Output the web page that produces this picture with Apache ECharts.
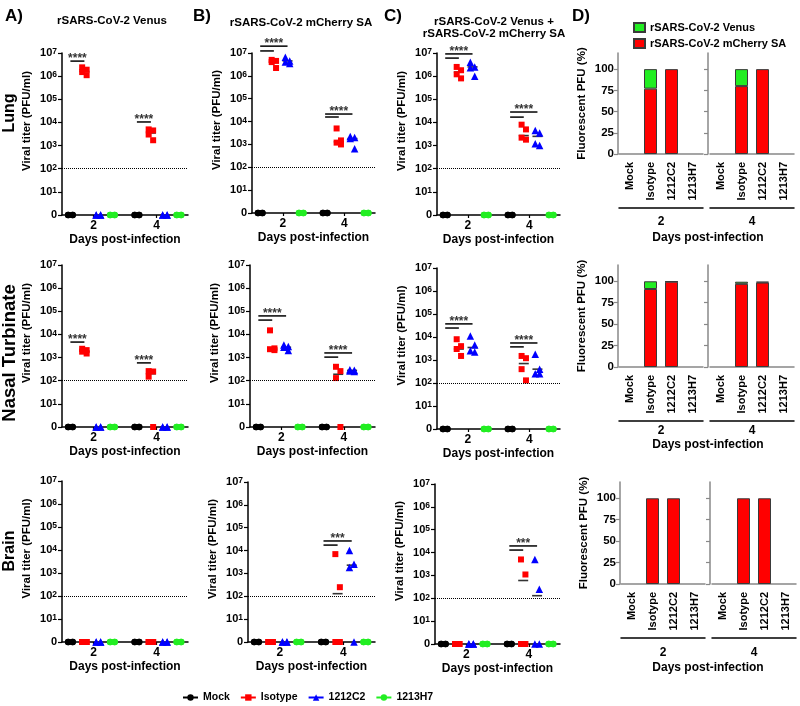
<!DOCTYPE html>
<html><head><meta charset="utf-8">
<script src="https://cdn.jsdelivr.net/npm/echarts@6/dist/echarts.min.js"></script>
<style>html,body{margin:0;padding:0;background:#fff}#c{width:800px;height:706px}</style>
</head><body><div id="c"></div>
<script>
// ---------------- DATA ----------------
const GROUPS = ['Mock', 'Isotype', '1212C2', '1213H7'];
const DAYS = ['2', '4'];
const Y_EXPONENTS = [0, 1, 2, 3, 4, 5, 6, 7];   // tick labels: 0, 10^1 ... 10^7
const PCT_TICKS = [0, 25, 50, 75, 100];
const DETECTION_LIMIT = 100;

// Viral titers (PFU/ml); each array = [Mock, Isotype, 1212C2, 1213H7] point lists
const lungVenusD2   = [[0,0,0,0], [2.4e6,1.9e6,1.5e6,1.1e6], [0,0,0,0], [0,0,0,0]];
const lungVenusD4   = [[0,0,0,0], [5e3,4.5e3,3e3,1.7e3], [0,0,0,0], [0,0,0,0]];
const lungCherryD2  = [[0,0,0,0], [5e6,4.5e6,4e6,2.2e6], [6.5e6,4.5e6,4e6,3.5e6], [0,0,0,0]];
const lungCherryD4  = [[0,0,0,0], [5e3,1.5e3,1.2e3,1e3], [2.2e3,2e3,1.8e3,6.5e2], [0,0,0,0]];
const lungMixD2     = [[0,0,0,0], [2.5e6,1.8e6,1.2e6,8e5], [4e6,2.5e6,2.3e6,1e6], [0,0,0,0]];
const lungMixD4     = [[0,0,0,0], [8e3,5e3,2.2e3,1.8e3], [4.5e3,3.5e3,1.2e3,1e3], [0,0,0,0]];
const nasalVenusD2  = [[0,0,0,0], [2.4e3,2.1e3,1.8e3,1.5e3], [0,0,0,0], [0,0,0,0]];
const nasalVenusD4  = [[0,0,0,0], [260,250,150,0], [0,0,0,0], [0,0,0,0]];
const nasalCherryD2 = [[0,0,0,0], [1.5e4,2.5e3,2.3e3,2.1e3], [3.5e3,3e3,2.8e3,2e3], [0,0,0,0]];
const nasalCherryD4 = [[0,0,0,0], [400,260,130,0], [300,280,260,250], [0,0,0,0]];
const nasalMixD2    = [[0,0,0,0], [8e3,4e3,3e3,1.5e3], [1.1e4,4.5e3,2.5e3,2.2e3], [0,0,0,0]];
const nasalMixD4    = [[0,0,0,0], [1.5e3,1.2e3,400,130], [1.8e3,400,250,250], [0,0,0,0]];
const brainVenusD2  = [[0,0,0,0], [0,0,0,0], [0,0,0,0], [0,0,0,0]];
const brainVenusD4  = [[0,0,0,0], [0,0,0,0], [0,0,0,0], [0,0,0,0]];
const brainCherryD2 = [[0,0,0,0], [0,0,0,0], [0,0,0,0], [0,0,0,0]];
const brainCherryD4 = [[0,0,0,0], [7e3,250,0,0], [1e4,2.5e3,1.8e3,0], [0,0,0,0]];
const brainMixD2    = [[0,0,0,0], [0,0,0,0], [0,0,0,0], [0,0,0,0]];
const brainMixD4    = [[0,0,0,0], [5e3,1.1e3,0,0], [5e3,250,0,0], [0,0,0,0]];

// central-tendency lines [day2 per group, day4 per group]
const lungVenusMid   = [[null,1.6e6,null,null], [null,3.5e3,null,null]];
const lungCherryMid  = [[null,4e6,4.5e6,null], [null,1.3e3,1.8e3,null]];
const lungMixMid     = [[null,1.5e6,2.5e6,null], [null,2.7e3,2.5e3,null]];
const nasalVenusMid  = [[null,1.9e3,null,null], [null,200,null,null]];
const nasalCherryMid = [[null,2.3e3,2.8e3,null], [null,190,280,null]];
const nasalMixMid    = [[null,3e3,3.5e3,null], [null,700,400,null]];
const brainVenusMid  = [[null,null,null,null], [null,null,null,null]];
const brainCherryMid = [[null,null,null,null], [null,130,2.3e3,null]];
const brainMixMid    = [[null,null,null,null], [null,600,130,null]];

// significance: [dayIndex, log10 height Mock–Isotype bar, log10 height Mock–1212C2 bar (or null), stars]
const lungVenusSig   = [[0, 6.65, null, '****'], [1, 4.02, null, '****']];
const lungCherrySig  = [[0, 7.09, 7.30, '****'], [1, 4.20, 4.33, '****']];
const lungMixSig     = [[0, 6.78, 6.96, '****'], [1, 4.23, 4.45, '****']];
const nasalVenusSig  = [[0, 3.67, null, '****'], [1, 2.77, null, '****']];
const nasalCherrySig = [[0, 4.62, 4.80, '****'], [1, 3.02, 3.20, '****']];
const nasalMixSig    = [[0, 4.39, 4.57, '****'], [1, 3.57, 3.74, '****']];
const brainVenusSig  = [];
const brainCherrySig = [[1, 4.24, 4.42, '***']];
const brainMixSig    = [[1, 4.11, 4.29, '***']];

// Fluorescent PFU (%) per group [Mock, Isotype, 1212C2, 1213H7]
const pctCherryLungD2  = [0, 77, 100, 0];
const pctVenusLungD2   = [0, 23, 0, 0];
const pctCherryLungD4  = [0, 80, 100, 0];
const pctVenusLungD4   = [0, 20, 0, 0];
const pctCherryNasalD2 = [0, 91, 99.5, 0];
const pctVenusNasalD2  = [0, 9, 0.5, 0];
const pctCherryNasalD4 = [0, 97, 98.5, 0];
const pctVenusNasalD4  = [0, 2.5, 1, 0];
const pctCherryBrainD2 = [0, 100, 100, 0];
const pctVenusBrainD2  = [0, 0, 0, 0];
const pctCherryBrainD4 = [0, 100, 100, 0];
const pctVenusBrainD4  = [0, 0, 0, 0];

// ---------------- STYLE / LAYOUT ----------------
const FONT = '"Liberation Sans", Arial, sans-serif';
const RED = '#FF0000', BLUE = '#0000FF', GREEN = '#22EE22', BLACK = '#000000';
const GROUP_COLORS = [BLACK, RED, BLUE, GREEN];
const GROUP_SYMBOLS = ['circle', 'rect', 'triangle', 'circle'];
const GROUP_SIZES = [6.5, 6, 7.5, 6.5];
const XPOS = [[0.6, 1.6, 2.6, 3.6], [5.35, 6.35, 7.35, 8.35]];
const JIT = [-0.16, 0.16, -0.16, 0.16];

const SCATTER = [
  {g: [62, 53, 126, 162],  d: [lungVenusD2, lungVenusD4],   mid: lungVenusMid,   sig: lungVenusSig},
  {g: [252, 53, 123, 160], d: [lungCherryD2, lungCherryD4], mid: lungCherryMid,  sig: lungCherrySig},
  {g: [437, 53, 123, 162], d: [lungMixD2, lungMixD4],       mid: lungMixMid,     sig: lungMixSig},
  {g: [62, 265, 126, 162], d: [nasalVenusD2, nasalVenusD4], mid: nasalVenusMid,  sig: nasalVenusSig},
  {g: [250, 265, 125, 162],d: [nasalCherryD2, nasalCherryD4], mid: nasalCherryMid, sig: nasalCherrySig},
  {g: [437, 268, 123, 161],d: [nasalMixD2, nasalMixD4],     mid: nasalMixMid,    sig: nasalMixSig},
  {g: [62, 481, 126, 161], d: [brainVenusD2, brainVenusD4], mid: brainVenusMid,  sig: brainVenusSig},
  {g: [248, 482, 127, 160],d: [brainCherryD2, brainCherryD4], mid: brainCherryMid, sig: brainCherrySig},
  {g: [435, 484, 125, 160],d: [brainMixD2, brainMixD4],     mid: brainMixMid,    sig: brainMixSig}
];

const PCT = [
  {g: [[619, 53, 84, 101], [710, 53, 84, 101]],   dayMargin: 8, red: [pctCherryLungD2, pctCherryLungD4],   green: [pctVenusLungD2, pctVenusLungD4]},
  {g: [[619, 265, 84, 102], [710, 265, 84, 102]], dayMargin: 4, red: [pctCherryNasalD2, pctCherryNasalD4], green: [pctVenusNasalD2, pctVenusNasalD4]},
  {g: [[621, 482, 84, 102], [712, 482, 84, 102]], dayMargin: 9, red: [pctCherryBrainD2, pctCherryBrainD4], green: [pctVenusBrainD2, pctVenusBrainD4]}
];

const VENUS = 'rSARS-CoV-2 Venus', CHERRY = 'rSARS-CoV-2 mCherry SA';
const txt = (size) => ({fontFamily: FONT, fontWeight: 'bold', fontSize: size, color: '#000'});

const grid = [], xAxis = [], yAxis = [], series = [];

// legend proxies (line + symbol icons)
GROUPS.forEach((name, i) => series.push({
  type: 'line', name, xAxisIndex: 0, yAxisIndex: 0, data: [],
  symbol: GROUP_SYMBOLS[i], symbolSize: 8,
  itemStyle: {color: GROUP_COLORS[i]}, lineStyle: {color: GROUP_COLORS[i], width: 2}
}));

SCATTER.forEach((P) => {
  const gi = grid.length;
  grid.push({left: P.g[0], top: P.g[1], width: P.g[2], height: P.g[3]});
  const xv = xAxis.length;
  xAxis.push({
    type: 'value', gridIndex: gi, min: 0, max: 9,
    axisLine: {show: true, onZero: false, lineStyle: {color: '#000', width: 1.5}},
    axisTick: {show: false}, axisLabel: {show: false}, splitLine: {show: false},
    name: 'Days post-infection', nameLocation: 'middle', nameGap: 19,
    nameTextStyle: txt(12)
  });
  xAxis.push({
    type: 'category', gridIndex: gi, data: DAYS, position: 'bottom',
    axisLine: {show: false},
    axisTick: {show: true, alignWithLabel: true, length: 3, lineStyle: {color: '#000', width: 1.2}},
    axisLabel: Object.assign(txt(12), {margin: 5}), splitLine: {show: false}
  });
  const yi = yAxis.length;
  yAxis.push({
    type: 'value', gridIndex: gi, min: 0, max: 7, interval: 1,
    axisLine: {show: true, lineStyle: {color: '#000', width: 1.5}},
    axisTick: {show: true, length: 4, lineStyle: {color: '#000', width: 1.2}},
    splitLine: {show: false},
    axisLabel: Object.assign(txt(11), {
      margin: 5,
      formatter: (v) => v === 0 ? '0' : '10{s|' + Y_EXPONENTS[v] + '}',
      rich: {s: {fontFamily: FONT, fontWeight: 'bold', fontSize: 8.5, verticalAlign: 'top', lineHeight: 8, color: '#000'}}
    }),
    name: 'Viral titer (PFU/ml)', nameLocation: 'middle', nameGap: 29,
    nameTextStyle: Object.assign(txt(11.5), {padding: [0, 0, 0, 26]})
  });

  // dotted detection limit + central lines
  const mids = [];
  P.mid.forEach((arr, di) => arr.forEach((v, g) => { if (v != null) mids.push([XPOS[di][g], Math.log10(v)]); }));
  series.push({
    type: 'scatter', xAxisIndex: xv, yAxisIndex: yi, data: mids, symbol: 'rect', symbolSize: [10, 1.6],
    itemStyle: {color: '#000'}, z: 3, silent: true,
    markLine: {silent: true, symbol: 'none', label: {show: false},
      lineStyle: {color: '#000', type: 'dotted', width: 1}, data: [{yAxis: Math.log10(DETECTION_LIMIT)}]}
  });

  GROUPS.forEach((name, g) => {
    const pts = [];
    P.d.forEach((arr, di) => arr[g].forEach((v, k) => pts.push([XPOS[di][g] + JIT[k], v > 0 ? Math.log10(v) : 0])));
    series.push({
      type: 'scatter', name, xAxisIndex: xv, yAxisIndex: yi, data: pts,
      symbol: GROUP_SYMBOLS[g], symbolSize: GROUP_SIZES[g],
      itemStyle: {color: GROUP_COLORS[g], opacity: 1}, z: 4
    });
  });

  // significance bars
  const sigItems = [];
  P.sig.forEach(([di, ys, yl, stars]) => {
    sigItems.push([XPOS[di][0], XPOS[di][1], ys, yl == null ? stars : '']);
    if (yl != null) sigItems.push([XPOS[di][0], XPOS[di][2], yl, stars]);
  });
  series.push({
    type: 'custom', xAxisIndex: xv, yAxisIndex: yi, clip: false, silent: true, z: 5,
    data: sigItems.map((s) => [s[0], s[2], s[1]]),
    renderItem: (params, api) => {
      const it = sigItems[params.dataIndex];
      const a = api.coord([it[0], it[2]]), b = api.coord([it[1], it[2]]);
      const children = [{type: 'line', shape: {x1: a[0], y1: a[1], x2: b[0], y2: b[1]},
        style: {stroke: '#000', lineWidth: 1.5}}];
      if (it[3]) children.push({type: 'text', x: (a[0] + b[0]) / 2, y: a[1] + 4,
        style: {text: it[3], font: 'bold 12px ' + FONT, fill: '#333', align: 'center', verticalAlign: 'bottom'}});
      return {type: 'group', children};
    }
  });
});

PCT.forEach((R, r) => {
  [0, 1].forEach((di) => {
    const gi = grid.length;
    const G = R.g[di];
    grid.push({left: G[0], top: G[1], width: G[2], height: G[3]});
    const xi = xAxis.length;
    xAxis.push({
      type: 'category', gridIndex: gi, data: GROUPS,
      axisLine: {show: true, lineStyle: {color: '#888', width: 1.5}}, axisTick: {show: false},
      axisLabel: Object.assign(txt(11), {rotate: 90, margin: 8, interval: 0})
    });
    xAxis.push({
      type: 'category', gridIndex: gi, data: [DAYS[di]], position: 'bottom', offset: 54,
      axisLine: {show: true, lineStyle: {color: '#000', width: 1.5}}, axisTick: {show: false},
      axisLabel: Object.assign(txt(12), {margin: R.dayMargin})
    });
    const yi = yAxis.length;
    yAxis.push({
      type: 'value', gridIndex: gi, min: 0, max: 119, interval: 25, offset: di === 0 ? 1 : 2,
      axisLine: {show: true, lineStyle: {color: '#888', width: 1.5}},
      axisTick: {show: true, length: 4, customValues: PCT_TICKS, lineStyle: {color: '#888', width: 1.2}},
      axisLabel: Object.assign(txt(11.5), {show: di === 0, margin: 4, customValues: PCT_TICKS}),
      splitLine: {show: false},
      name: di === 0 ? 'Fluorescent PFU (%)' : '', nameLocation: 'middle', nameGap: 30,
      nameTextStyle: txt(11.5)
    });
    const stack = 'pct' + r + '_' + di;
    [[CHERRY, R.red[di], RED], [VENUS, R.green[di], GREEN]].forEach(([name, vals, color]) => series.push({
      type: 'bar', name, stack, xAxisIndex: xi, yAxisIndex: yi, barWidth: 13,
      data: vals.map((v) => v > 0 ? v : null),
      itemStyle: {color, borderColor: '#3a3a3a', borderWidth: 1}
    }));
  });
});

// ---------------- TEXT ----------------
const T = (text, x, y, size, opts) => Object.assign({
  type: 'text', x, y, silent: true,
  style: {text, font: 'bold ' + size + 'px ' + FONT, fill: '#000', align: 'center', verticalAlign: 'middle'}
}, opts || {});
const L = (text, x, y) => ({type: 'text', x, y, silent: true,
  style: {text, font: 'bold 17px ' + FONT, fill: '#000', align: 'left', verticalAlign: 'middle'}});
const R90 = {rotation: Math.PI / 2};
const graphic = [
  L('A)', 5, 16), L('B)', 193, 16), L('C)', 384, 16), L('D)', 572, 16),
  T('rSARS-CoV-2 Venus', 112, 21, 11.5),
  T('rSARS-CoV-2 mCherry SA', 301, 23, 11.5),
  T('rSARS-CoV-2 Venus +', 494, 22, 11.5),
  T('rSARS-CoV-2 mCherry SA', 494, 34, 11.5),
  T('Lung', 10, 113, 16, R90),
  T('Nasal Turbinate', 10, 353, 18.5, R90),
  T('Brain', 10, 551, 16, R90),
  T('Days post-infection', 708, 238, 12),
  T('Days post-infection', 708, 445, 12),
  T('Days post-infection', 708, 668, 12)
];

const chart = echarts.init(document.getElementById('c'), null, {renderer: 'canvas'});
chart.setOption({
  animation: false,
  backgroundColor: '#fff',
  textStyle: {fontFamily: FONT},
  grid, xAxis, yAxis, series, graphic,
  legend: [
    {data: GROUPS, left: 182, top: 692, itemWidth: 15, itemHeight: 8, itemGap: 10, padding: 0,
      textStyle: txt(10.5), selectedMode: false},
    {data: [VENUS, CHERRY], orient: 'vertical', left: 628, top: 17, icon: 'rect', itemWidth: 11, itemHeight: 9, itemGap: 5,
      textStyle: txt(11), selectedMode: false}
  ]
});
</script></body></html>
